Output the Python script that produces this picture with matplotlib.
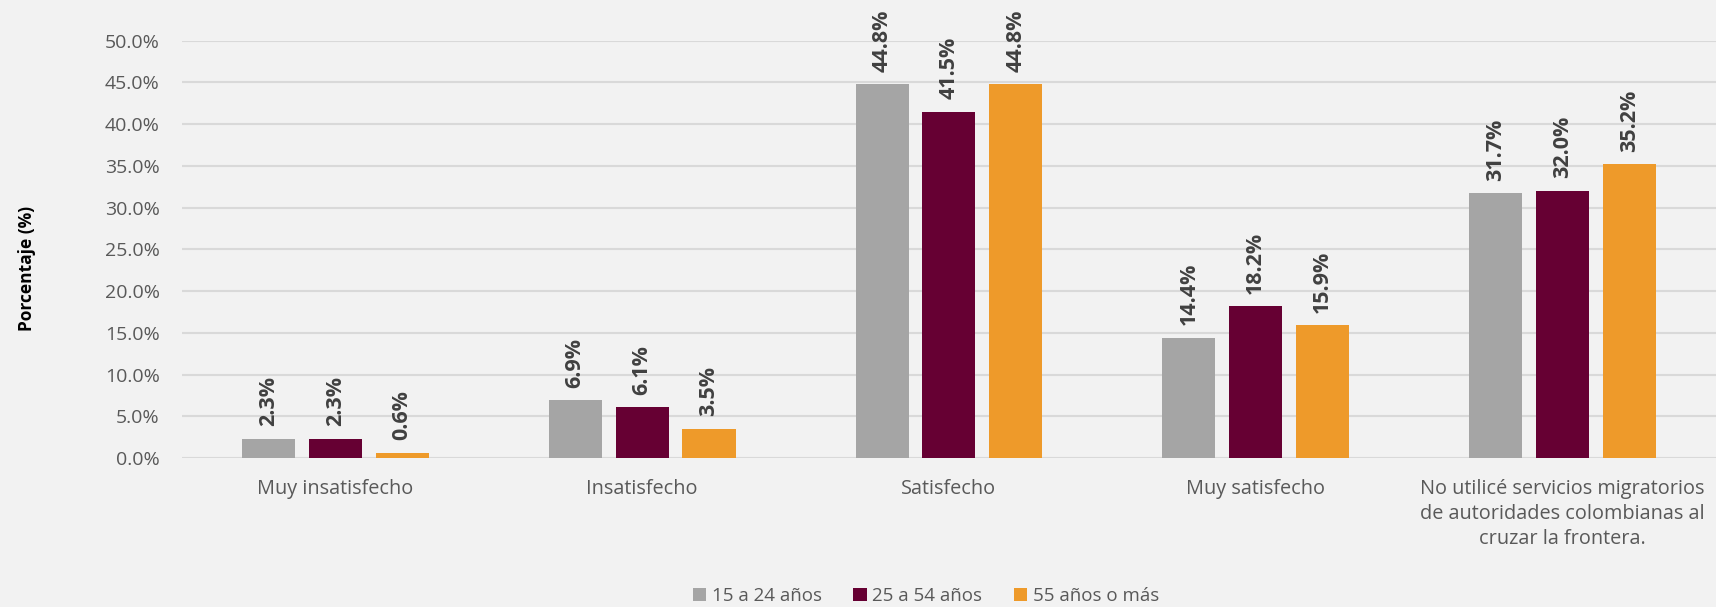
import matplotlib
matplotlib.use("Agg")
import matplotlib.pyplot as plt
import numpy as np
from matplotlib.ticker import FuncFormatter

plt.rcParams['font.family'] = ['Open Sans', 'DejaVu Sans']

categorias = ["Muy insatisfecho", "Insatisfecho", "Satisfecho", "Muy satisfecho",
              "No utilicé servicios migratorios\nde autoridades colombianas al\ncruzar la frontera."]
series = ["15 a 24 años", "25 a 54 años", "55 años o más"]
v_15_24 = [2.3, 6.9, 44.8, 14.4, 31.7]
v_25_54 = [2.3, 6.1, 41.5, 18.2, 32.0]
v_55 = [0.6, 3.5, 44.8, 15.9, 35.2]
colores = ["#a5a5a5", "#660033", "#ee9a2a"]

fig = plt.figure(figsize=(17.16, 6.07), dpi=100, facecolor="#f2f2f2")
ax = fig.add_axes([0.106, 0.2455, 0.894, 0.6875])
ax.set_facecolor("#f2f2f2")

x = np.arange(len(categorias))
paso = 0.218
ancho = 0.173
for i, (vals, nombre, c) in enumerate(zip([v_15_24, v_25_54, v_55], series, colores)):
    pos = x + (i - 1) * paso
    bars = ax.bar(pos, vals, width=ancho, color=c, label=nombre, zorder=3)
    for b, v in zip(bars, vals):
        ax.annotate(f"{v:.1f}%", (b.get_x() + b.get_width() / 2, v),
                    xytext=(0, 9), textcoords="offset points", rotation=90,
                    ha="center", va="bottom", fontsize=15.5, fontweight="bold",
                    color="#404040", annotation_clip=False)

ax.set_xlim(-0.5, 4.5)
ax.set_ylim(0, 50)
ax.set_yticks(np.arange(0, 50.1, 5))
ax.yaxis.set_major_formatter(FuncFormatter(lambda v, p: f"{v:.1f}%"))
ax.grid(axis="y", color="#d9d9d9", linewidth=1.5, zorder=0)
ax.set_xticks(x)
ax.set_xticklabels(categorias, fontsize=14.3, color="#595959", linespacing=1.35, va="top")
ax.tick_params(axis="x", length=0, pad=15)
ax.tick_params(axis="y", length=0, pad=16, labelsize=14, labelcolor="#595959")
for s in ax.spines.values():
    s.set_visible(False)

fig.text(0.016, 0.558, "Porcentaje (%)", rotation=90, ha="center", va="center",
         fontsize=12.5, fontweight="bold", color="black")

ax.legend(loc="center", bbox_to_anchor=(0.485, -0.33), ncol=3, frameon=False,
          fontsize=13.5, labelcolor="#595959", handlelength=0.7, handleheight=0.7,
          handletextpad=0.3, columnspacing=1.7)

fig.savefig("out.png", dpi=100, facecolor=fig.get_facecolor())
